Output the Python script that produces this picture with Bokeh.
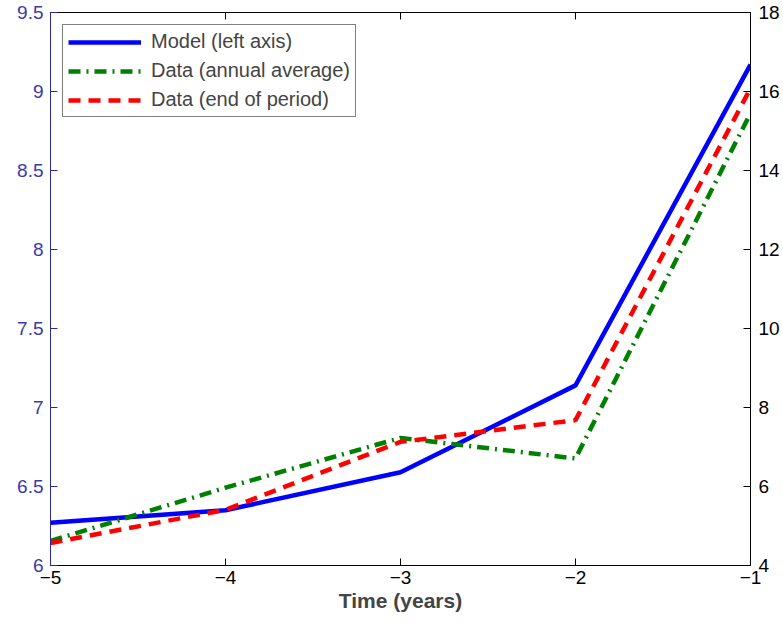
from bokeh.plotting import figure
from bokeh.models import Range1d, LinearAxis, FixedTicker, Legend, LegendItem
from bokeh.embed import file_html
from bokeh.resources import INLINE

# values
years = [-5, -4, -3, -2, -1]
model = [6.27, 6.35, 6.59, 7.14, 9.17]           # left axis
data_annual = [4.62, 5.97, 7.23, 6.71, 15.45]    # right axis
data_end = [4.57, 5.41, 7.13, 7.68, 16.08]       # right axis

x_ticks = [-5, -4, -3, -2, -1]
x_labels = ["−5", "−4", "−3", "−2", "−1"]
left_ticks = [6, 6.5, 7, 7.5, 8, 8.5, 9, 9.5]
left_labels = ["6", "6.5", "7", "7.5", "8", "8.5", "9", "9.5"]
right_ticks = [4, 6, 8, 10, 12, 14, 16, 18]
right_labels = ["4", "6", "8", "10", "12", "14", "16", "18"]

FONT = "Liberation Sans"
BLUE_AX = "#2b2ba0"

p = figure(frame_width=700, frame_height=553,
           x_range=Range1d(-5, -1), y_range=Range1d(6, 9.5),
           output_backend="svg", toolbar_location=None,
           min_border_left=50, min_border_right=25,
           min_border_top=12, min_border_bottom=10)
p.extra_y_ranges = {"right": Range1d(4, 18)}
p.xgrid.visible = False
p.ygrid.visible = False
p.outline_line_color = "black"
p.background_fill_color = "white"
p.border_fill_color = "white"


def style(ax, color="black"):
    ax.axis_line_color = color
    ax.major_tick_line_color = color
    ax.major_tick_in = 7
    ax.major_tick_out = 0
    ax.minor_tick_line_color = None
    ax.major_label_text_font = FONT
    ax.major_label_text_font_size = "19px"
    ax.major_label_text_color = color


xa = p.xaxis[0]
style(xa)
xa.ticker = FixedTicker(ticks=x_ticks)
xa.major_label_overrides = dict(zip(x_ticks, x_labels))
xa.major_label_standoff = 5
xa.axis_label = "Time (years)"
xa.axis_label_text_font = FONT
xa.axis_label_text_font_size = "21px"
xa.axis_label_text_font_style = "bold"
xa.axis_label_standoff = 2

ya = p.yaxis[0]
style(ya, BLUE_AX)
ya.major_label_text_color = "#3a3aa8"
ya.ticker = FixedTicker(ticks=left_ticks)
ya.major_label_overrides = dict(zip(left_ticks, left_labels))
ya.major_label_standoff = 7

ra = LinearAxis(y_range_name="right", ticker=FixedTicker(ticks=right_ticks))
style(ra)
ra.major_label_overrides = dict(zip(right_ticks, right_labels))
ra.major_label_standoff = 8
p.add_layout(ra, "right")

# top edge: ticks only, no labels
ta = LinearAxis(ticker=FixedTicker(ticks=x_ticks))
style(ta)
ta.major_label_overrides = {t: "" for t in x_ticks}
ta.major_label_standoff = 0
p.add_layout(ta, "above")

r_model = p.line(years, model, line_color="#0000ff", line_width=4.5)
r_annual = p.line(years, data_annual, y_range_name="right",
                  line_color="#008000", line_width=4.5, line_dash="12 6 2 6")
r_end = p.line(years, data_end, y_range_name="right",
               line_color="#ff0000", line_width=4.5, line_dash="12 8")

legend = Legend(items=[
    LegendItem(label="Model (left axis)", renderers=[r_model]),
    LegendItem(label="Data (annual average)", renderers=[r_annual]),
    LegendItem(label="Data (end of period)", renderers=[r_end]),
], location="top_left")
legend.margin = 12
legend.padding = 5
legend.spacing = 6
legend.glyph_width = 73
legend.glyph_height = 22
legend.label_standoff = 10
legend.label_text_font = FONT
legend.label_text_font_size = "20px"
legend.border_line_color = "black"
legend.border_line_width = 1
legend.background_fill_alpha = 1
p.add_layout(legend)

open("out.html", "w").write(file_html(p, INLINE))
